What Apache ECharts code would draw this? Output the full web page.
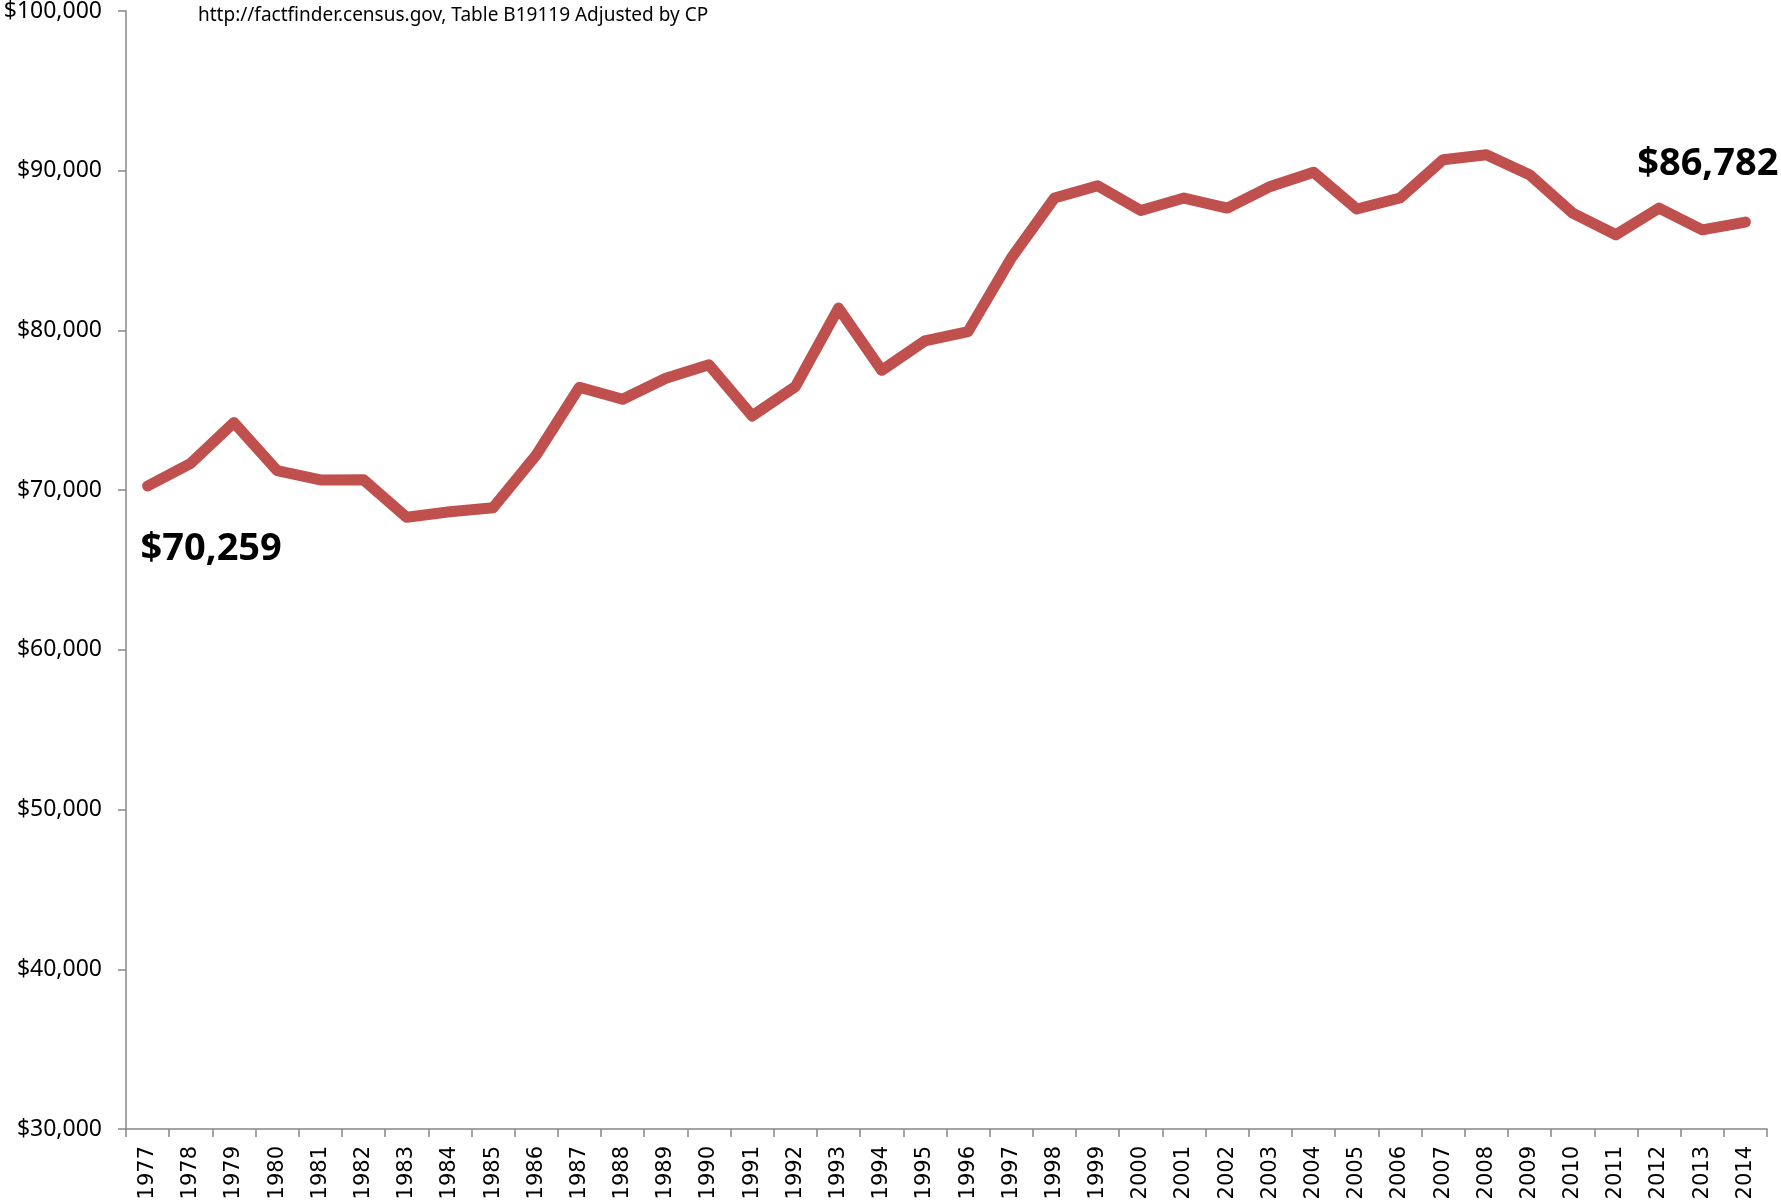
<!DOCTYPE html>
<html>
<head>
<meta charset="utf-8">
<style>
  html, body { margin: 0; padding: 0; background: #fff; }
  #chart { width: 1781px; height: 1203px; }
</style>
<script src="https://cdn.jsdelivr.net/npm/echarts@6/dist/echarts.min.js"></script>
</head>
<body>
<div id="chart"></div>
<script>
// years on the x axis
var years = ['1977', '1978', '1979', '1980', '1981', '1982', '1983', '1984', '1985', '1986',
  '1987', '1988', '1989', '1990', '1991', '1992', '1993', '1994', '1995', '1996',
  '1997', '1998', '1999', '2000', '2001', '2002', '2003', '2004', '2005', '2006',
  '2007', '2008', '2009', '2010', '2011', '2012', '2013', '2014'];

// median income (first and last are labelled)
var income = [70259, 71680, 74229, 71221, 70638, 70650, 68300, 68650, 68903, 72200,
  76446, 75695, 77010, 77844, 74648, 76484, 81400, 77500, 79347, 79930,
  84530, 88288, 89060, 87512, 88288, 87660, 89016, 89900, 87600, 88290,
  90690, 91000, 89750, 87350, 85990, 87660, 86300, 86782];

var yTicks = [30000, 40000, 50000, 60000, 70000, 80000, 90000, 100000];

var sourceText = 'http://factfinder.census.gov, Table B19119 Adjusted by CP';

function money(v) {
  return '$' + v.toLocaleString('en-US');
}

var bigLabel = {
  show: true,
  formatter: function (p) { return money(p.value); },
  fontFamily: 'Noto Sans',
  fontWeight: 'bold',
  fontSize: 38,
  color: '#000'
};

// only the first and last points carry a label
var seriesData = income.map(function (v, i) {
  if (i === 0) {
    return { value: v, label: Object.assign({}, bigLabel, { position: 'bottom', align: 'left', distance: 44, offset: [-7, 0] }) };
  }
  if (i === income.length - 1) {
    return { value: v, label: Object.assign({}, bigLabel, { position: 'top', align: 'right', distance: 38, offset: [33, 0] }) };
  }
  return v;
});

var chart = echarts.init(document.getElementById('chart'), null, { renderer: 'canvas' });

var option = {
  animation: false,
  backgroundColor: '#fff',
  title: {
    text: sourceText,
    left: 198,
    top: 6,
    padding: 0,
    textStyle: {
      fontFamily: 'Noto Sans',
      fontSize: 19,
      fontWeight: 'normal',
      color: '#000'
    }
  },
  grid: {
    left: 126,
    right: 14,
    top: 11,
    bottom: 74,
    containLabel: false,
    outerBoundsMode: 'none'
  },
  xAxis: {
    type: 'category',
    data: years,
    boundaryGap: true,
    axisLine: { lineStyle: { color: '#868686', width: 1.5 } },
    axisTick: { show: true, length: 8, alignWithLabel: false, lineStyle: { color: '#868686', width: 1.5 } },
    axisLabel: {
      rotate: 90,
      margin: 17,
      interval: 0,
      fontFamily: 'DejaVu Sans',
      fontSize: 21,
      color: '#000'
    }
  },
  yAxis: {
    type: 'value',
    min: yTicks[0],
    max: yTicks[yTicks.length - 1],
    interval: 10000,
    splitLine: { show: false },
    axisLine: { show: true, lineStyle: { color: '#868686', width: 1.5 } },
    axisTick: { show: true, length: 8, lineStyle: { color: '#868686', width: 1.5 } },
    axisLabel: {
      margin: 24,
      fontFamily: 'Noto Sans',
      fontSize: 23,
      color: '#000',
      formatter: function (v) { return money(v); }
    }
  },
  series: [{
    name: 'income',
    type: 'line',
    data: seriesData,
    showSymbol: true,
    symbol: 'circle',
    symbolSize: 1,
    itemStyle: { color: 'rgba(0,0,0,0)' },
    lineStyle: {
      color: '#C0504D',
      width: 11,
      cap: 'round',
      join: 'round'
    },
    label: { show: false },
    z: 10
  }]
};

chart.setOption(option);
</script>
</body>
</html>
